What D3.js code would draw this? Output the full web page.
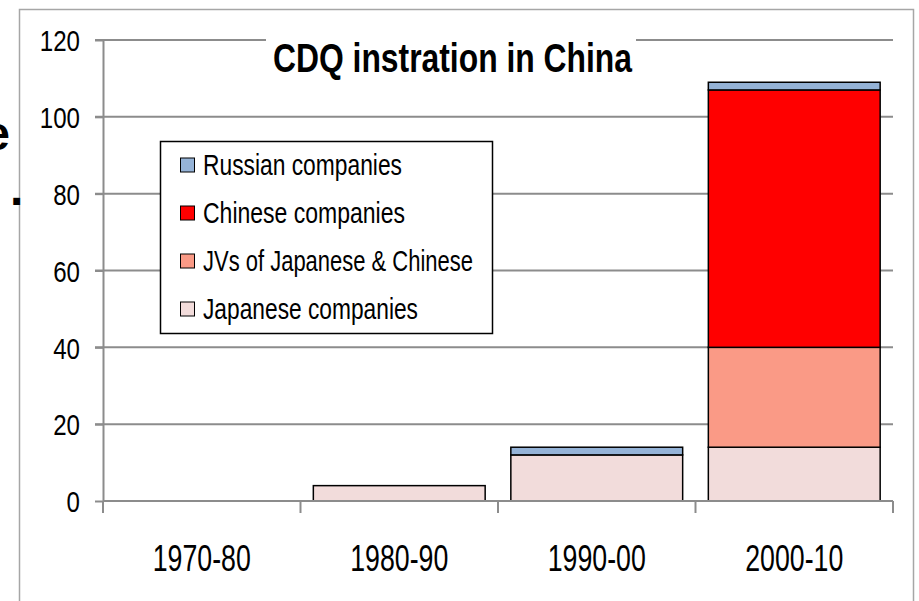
<!DOCTYPE html>
<html>
<head>
<meta charset="utf-8">
<script src="https://cdn.jsdelivr.net/npm/d3@7"></script>
<style>
  body { margin: 0; background: #fff; }
  svg text { font-family: "Liberation Sans", Arial, sans-serif; fill: #000; }
</style>
</head>
<body>
<svg id="chart" width="919" height="601"></svg>
<script>
// data
var decades = ["1970-80", "1980-90", "1990-00", "2000-10"]
var japanese = [0, 4, 12, 14]
var jvs = [0, 0, 0, 26]
var chinese = [0, 0, 0, 67]
var russian = [0, 0, 2, 2]
var seriesNames = ["Japanese companies", "JVs of Japanese & Chinese", "Chinese companies", "Russian companies"]
var seriesColors = ["#f2dcdb", "#fa9a86", "#ff0000", "#95b3d7"]
var yTicks = [0, 20, 40, 60, 80, 100, 120]
var title = "CDQ instration in China"

var svg = d3.select("#chart")

// plot area (don't call it "top", window.top is taken)
var plotLeft = 103, plotRight = 893, plotTop = 40, plotBottom = 501

var x = d3.scaleBand()
  .domain(decades)
  .range([plotLeft, plotRight])
  .paddingInner(0.13)
  .paddingOuter(0.065)

var y = d3.scaleLinear()
  .domain([0, 120])
  .range([plotBottom, plotTop])

// rows for the stack
var rows = decades.map(function(d, i) {
  return {
    decade: d,
    "Japanese companies": japanese[i],
    "JVs of Japanese & Chinese": jvs[i],
    "Chinese companies": chinese[i],
    "Russian companies": russian[i]
  }
})
var stacked = d3.stack().keys(seriesNames)(rows)

// outer slide frame (cut off at the bottom)
svg.append("rect")
  .attr("x", 19.5).attr("y", 9.5)
  .attr("width", 894).attr("height", 620)
  .style("fill", "none")
  .style("stroke", "#a6a6a6")
  .style("stroke-width", 1.5)

// bits of slide text cut off on the left
svg.append("text")
  .attr("x", 10).attr("y", 150)
  .attr("text-anchor", "end")
  .style("font-weight", "bold")
  .style("font-size", "48px")
  .text("e")
svg.append("text")
  .attr("x", 10).attr("y", 205)
  .style("font-weight", "bold")
  .style("font-size", "48px")
  .text(".")

// gridlines
svg.append("g")
  .selectAll("line")
  .data(yTicks.filter(function(d) { return d > 0 }))
  .join("line")
  .attr("x1", plotLeft - 8).attr("x2", plotRight)
  .attr("y1", function(d) { return y(d) }).attr("y2", function(d) { return y(d) })
  .style("stroke", "#8c8c8c")
  .style("stroke-width", 2)

// y axis
var yAxis = svg.append("g")
  .attr("transform", "translate(" + plotLeft + ",0)")
  .call(d3.axisLeft(y).tickValues(yTicks).tickSize(8).tickSizeOuter(0).tickPadding(15))
yAxis.select(".domain").style("stroke", "#8c8c8c").style("stroke-width", 2)
yAxis.selectAll(".tick line").style("stroke", "#8c8c8c").style("stroke-width", 2)
yAxis.selectAll(".tick text")
  .style("font-size", "30px")
  .attr("dy", "0.36em")
  .attr("textLength", function(d) { return String(d).length * 13.4 })
  .attr("lengthAdjust", "spacingAndGlyphs")

// title, on a white box over the top gridline
svg.append("rect")
  .attr("x", 266).attr("y", 24)
  .attr("width", 370).attr("height", 34)
  .style("fill", "#fff")
svg.append("text")
  .attr("x", 452.5).attr("y", 72)
  .attr("text-anchor", "middle")
  .style("font-weight", "bold")
  .style("font-size", "40px")
  .attr("textLength", 359)
  .attr("lengthAdjust", "spacingAndGlyphs")
  .text(title)

// stacked bars
svg.append("g")
  .selectAll("g")
  .data(stacked)
  .join("g")
  .style("fill", function(d, i) { return seriesColors[i] })
  .selectAll("rect")
  .data(function(d) { return d.filter(function(p) { return p[1] - p[0] > 0 }) })
  .join("rect")
  .attr("x", function(d) { return x(d.data.decade) })
  .attr("width", x.bandwidth())
  .attr("y", function(d) { return y(d[1]) })
  .attr("height", function(d) { return y(d[0]) - y(d[1]) })
  .style("stroke", "#000")
  .style("stroke-width", 1.5)

// x axis with ticks between categories
var xAxisG = svg.append("g")
xAxisG.append("line")
  .attr("x1", plotLeft).attr("x2", plotRight)
  .attr("y1", plotBottom).attr("y2", plotBottom)
  .style("stroke", "#8c8c8c").style("stroke-width", 2)
var boundaries = decades.map(function(d) { return x(d) - x.step() * x.paddingInner() / 2 })
boundaries[0] = plotLeft
boundaries.push(plotRight)
xAxisG.selectAll(".xt")
  .data(boundaries)
  .join("line")
  .attr("class", "xt")
  .attr("x1", function(d) { return d }).attr("x2", function(d) { return d })
  .attr("y1", plotBottom).attr("y2", plotBottom + 12)
  .style("stroke", "#8c8c8c").style("stroke-width", 2)
xAxisG.selectAll(".xl")
  .data(decades)
  .join("text")
  .attr("class", "xl")
  .attr("x", function(d) { return x(d) + x.bandwidth() / 2 })
  .attr("y", 571)
  .attr("text-anchor", "middle")
  .style("font-size", "36px")
  .attr("textLength", 98)
  .attr("lengthAdjust", "spacingAndGlyphs")
  .text(function(d) { return d })

// legend
var legendOrder = ["Russian companies", "Chinese companies", "JVs of Japanese & Chinese", "Japanese companies"]
var legendWidths = { "Russian companies": 199, "Chinese companies": 202, "JVs of Japanese & Chinese": 270, "Japanese companies": 215 }
var legend = svg.append("g")
legend.append("rect")
  .attr("x", 160.5).attr("y", 141.5)
  .attr("width", 332).attr("height", 192)
  .style("fill", "#fff")
  .style("stroke", "#000")
  .style("stroke-width", 1.5)
var item = legend.selectAll(".item")
  .data(legendOrder)
  .join("g")
  .attr("class", "item")
  .attr("transform", function(d, i) { return "translate(0," + (175 + i * 48) + ")" })
item.append("rect")
  .attr("x", 180.5).attr("y", -17)
  .attr("width", 14).attr("height", 14)
  .style("fill", function(d) { return seriesColors[seriesNames.indexOf(d)] })
  .style("stroke", "#000")
  .style("stroke-width", 1)
item.append("text")
  .attr("x", 203).attr("y", 0)
  .style("font-size", "29px")
  .attr("textLength", function(d) { return legendWidths[d] })
  .attr("lengthAdjust", "spacingAndGlyphs")
  .text(function(d) { return d })
</script>
</body>
</html>
